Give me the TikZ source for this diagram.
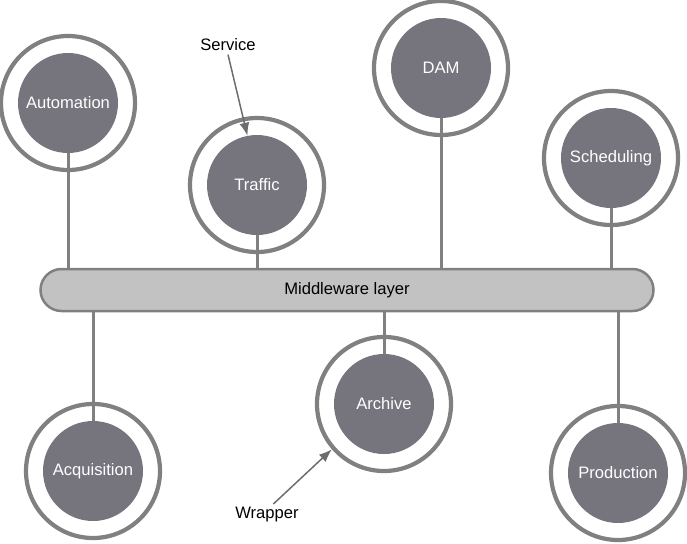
\documentclass[tikz,border=0pt]{standalone}
\usepackage{fontspec}
\setmainfont{Liberation Sans}
\usetikzlibrary{arrows.meta}
\definecolor{ringgray}{RGB}{128,128,128}
\definecolor{coregray}{RGB}{118,116,124}
\definecolor{bargray}{RGB}{194,194,194}

\begin{document}
\begin{tikzpicture}[
    x=1pt,
    y=-1pt,
    font=\fontsize{16.6}{19}\selectfont,
    service/.style={
        circle,
        fill=coregray,
        text=white,
        minimum size=100pt,
        inner sep=0pt
    },
    wrapper/.style={
        circle,
        draw=ringgray,
        line width=4.2pt,
        minimum size=134pt,
        inner sep=0pt
    },
    layer/.style={
        draw=ringgray,
        fill=bargray,
        line width=2.5pt,
        rounded corners=21pt,
        minimum width=613pt,
        minimum height=42pt
    },
    link/.style={draw=ringgray, line width=3pt},
    callout/.style={draw=ringgray!85!black, line width=1.5pt, -{Latex[length=13pt,width=10pt]}}
]
\useasboundingbox (0,0) rectangle (687,543);

\node[layer] (bar) at (347,290) {Middleware layer};

\node[wrapper] (autoW) at (68,103) {};
\node[service] (auto) at (68,103) {Automation};

\node[wrapper] (trafW) at (257,185) {};
\node[service] (traf) at (257,185) {Traffic};

\node[wrapper] (damW) at (441,68) {};
\node[service] (dam) at (441,68) {DAM};

\node[wrapper] (schedW) at (611,158) {};
\node[service] (sched) at (611,158) {Scheduling};

\node[wrapper] (acqW) at (93,471) {};
\node[service] (acq) at (93,471) {Acquisition};

\node[wrapper] (archW) at (384,404) {};
\node[service] (arch) at (384,404) {Archive};

\node[wrapper] (prodW) at (618,473) {};
\node[service] (prod) at (618,473) {Production};

\draw[link] (auto.south) -- (auto.south |- bar.north);
\draw[link] (traf.south) -- (traf.south |- bar.north);
\draw[link] (dam.south) -- (dam.south |- bar.north);
\draw[link] (sched.south) -- (sched.south |- bar.north);
\draw[link] (acq.north) -- (acq.north |- bar.south);
\draw[link] (arch.north) -- (arch.north |- bar.south);
\draw[link] (prod.north) -- (prod.north |- bar.south);

\node (servlbl) at (228,45) {Service};
\node (wraplbl) at (267,515) {Wrapper};

\draw[callout] (servlbl.south) -- (traf.101);
\draw[callout] (wraplbl.60) -- (archW.221);

\end{tikzpicture}
\end{document}
